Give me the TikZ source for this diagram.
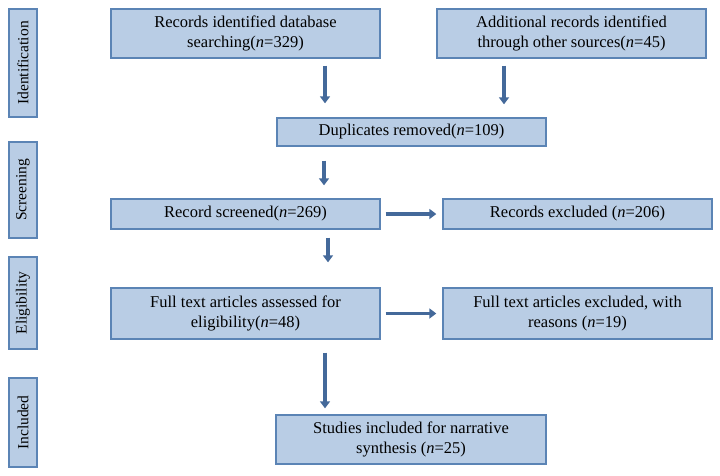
\documentclass[tikz,border=0pt]{standalone}
\usepackage{fontspec}
\setmainfont{Liberation Serif}
\usetikzlibrary{arrows.meta}
\definecolor{boxfill}{HTML}{B9CDE5}
\definecolor{boxline}{HTML}{5B84B5}
\definecolor{arrcol}{HTML}{44699A}
\tikzset{
  flowbox/.style={draw=boxline, fill=boxfill, line width=1.4pt, rectangle, align=center, inner sep=0pt, font=\fontsize{16.5}{20}\selectfont},
  sidebox/.style={draw=boxline, fill=boxfill, line width=1.4pt, rectangle, inner sep=0pt},
  sidetext/.style={rotate=90, font=\fontsize{15.5}{18}\selectfont},
  arr/.style={draw=arrcol, line width=3.5pt, -{Triangle[width=10pt,length=7pt]}}
}
\begin{document}
\begin{tikzpicture}[x=1pt,y=-1pt]
\useasboundingbox (0,0) rectangle (720,475);
% side labels
\node[sidebox, minimum width=28pt, minimum height=108pt] (sid) at (23,63) {};
\node[sidetext] (sidt) at (sid.center) {Identification};
\node[sidebox, minimum width=28pt, minimum height=96pt] (sscr) at (23,190) {};
\node[sidetext] (sscrt) at (sscr.center) {Screening};
\node[sidebox, minimum width=28pt, minimum height=92pt] (selig) at (23,303) {};
\node[sidetext] (seligt) at (selig.center) {Eligibility};
\node[sidebox, minimum width=28pt, minimum height=89pt] (sinc) at (23,422.5) {};
\node[sidetext] (sinct) at (sinc.center) {Included};
% main boxes
\node[flowbox, minimum width=269pt, minimum height=49pt] (b1) at (245.5,33.5) {Records identified database\\searching(\textit{n}=329)};
\node[flowbox, minimum width=269pt, minimum height=49pt] (b2) at (571.5,33.5) {Additional records identified\\through other sources(\textit{n}=45)};
\node[flowbox, minimum width=269pt, minimum height=28pt] (dup) at (411.5,132) {Duplicates removed(\textit{n}=109)};
\node[flowbox, minimum width=269pt, minimum height=30pt] (scr) at (245.5,214) {Record screened(\textit{n}=269)};
\node[flowbox, minimum width=269pt, minimum height=30pt] (exc) at (577.5,214) {Records excluded (\textit{n}=206)};
\node[flowbox, minimum width=269pt, minimum height=51pt] (full) at (245.5,313.5) {Full text articles assessed for\\eligibility(\textit{n}=48)};
\node[flowbox, minimum width=269pt, minimum height=51pt] (fexc) at (577.5,313.5) {Full text articles excluded, with\\reasons (\textit{n}=19)};
\node[flowbox, minimum width=270pt, minimum height=49pt] (stud) at (411,439.5) {Studies included for narrative\\synthesis (\textit{n}=25)};
% arrow x positions
\coordinate (x1) at (325,0);
\coordinate (x2) at (504,0);
\coordinate (x3) at (324,0);
\coordinate (x5) at (328,0);
\coordinate (x7) at (325,0);
\draw[arr, shorten <=7pt, shorten >=14pt] (b1.south -| x1) -- (dup.north -| x1);
\draw[arr, shorten <=7pt, shorten >=13pt] (b2.south -| x2) -- (dup.north -| x2);
\draw[arr, shorten <=14pt, shorten >=13pt] (dup.south -| x3) -- (scr.north -| x3);
\draw[arr, shorten <=5pt, shorten >=6pt] (scr.east) -- (exc.west);
\draw[arr, shorten <=8pt, shorten >=25pt] (scr.south -| x5) -- (full.north -| x5);
\draw[arr, shorten <=5pt, shorten >=6pt] (full.east) -- (fexc.west);
\draw[arr, shorten <=13pt, shorten >=6pt] (full.south -| x7) -- (stud.north -| x7);
\end{tikzpicture}
\end{document}
